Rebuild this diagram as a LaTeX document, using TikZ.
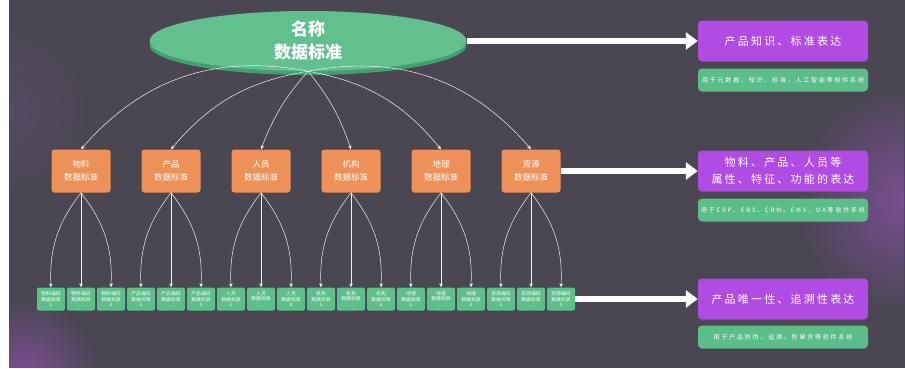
\documentclass[tikz,border=0pt]{standalone}
\usepackage{fontspec}
\setmainfont{Noto Sans CJK SC}
\newfontfamily\widefont[LetterSpace=20]{Noto Sans CJK SC}
\newfontfamily\usagefont[LetterSpace=30]{Noto Sans CJK SC}
\usetikzlibrary{positioning,shapes.geometric,arrows.meta,shadows}

\definecolor{bgcol}{HTML}{4A4652}
\definecolor{glow}{HTML}{7B4F95}
\definecolor{softglow}{HTML}{574A62}
\definecolor{rootgreen}{HTML}{62C08E}
\definecolor{rimgreen}{HTML}{43A06E}
\definecolor{midorange}{HTML}{EE9159}
\definecolor{leafgreen}{HTML}{5DBF8A}
\definecolor{notepurple}{HTML}{B04CE4}
\definecolor{usegreen}{HTML}{5BBE88}

\tikzset{
  root/.style={ellipse, fill=rootgreen, minimum width=317pt, minimum height=60pt, inner sep=0pt,
    text=white, align=center, font=\fontsize{17}{23}\selectfont\bfseries,
    drop shadow={shadow xshift=0pt, shadow yshift=-4pt, fill=rimgreen, opacity=1}},
  mid/.style={rectangle, rounded corners=3pt, fill=midorange, minimum width=59pt, minimum height=43pt,
    inner sep=0pt, text=white, align=center, font=\fontsize{8.5}{12.5}\selectfont},
  leaf/.style={rectangle, rounded corners=2pt, fill=leafgreen, minimum width=28pt, minimum height=23pt,
    inner sep=0pt, text=white, align=center, font=\fontsize{4.8}{5.8}\selectfont},
  note/.style={rectangle, rounded corners=4pt, fill=notepurple, minimum width=170pt, minimum height=41pt,
    inner sep=0pt, text=white, align=center, font=\widefont\fontsize{11}{17}\selectfont},
  use/.style={rectangle, rounded corners=4pt, fill=usegreen, minimum width=170pt, minimum height=23pt,
    inner sep=0pt, text=white, font=\usagefont\fontsize{6}{7}\selectfont},
  link/.style={gray!10, line width=0.5pt, -{Stealth[length=4pt,width=3.5pt]}},
  big/.style={white, line width=6pt, -{Triangle[length=12pt,width=17pt]}}
}

\begin{document}
\begin{tikzpicture}[x=1pt,y=-1pt,on grid,node distance=90pt]
   \useasboundingbox (0,0) rectangle (905,368);
   \fill[bgcol] (0,0) rectangle (905,368);
   \begin{scope}
     \clip (9,1) rectangle (904,367);
     \shade[inner color=glow, outer color=bgcol] (910,200) circle (115);
     \shade[inner color=glow, outer color=bgcol] (25,375) circle (75);
     \shade[inner color=softglow, outer color=bgcol] (5,110) circle (90);
   \end{scope}
   \fill[white] (0,0) rectangle (9,368);

   \node[root] (root) at (308,41) {名称\\数据标准};

   \node[mid] (m1) at (81,171) {物料\\数据标准};
   \node[mid] (m2) [right=of m1] {产品\\数据标准};
   \node[mid] (m3) [right=of m2] {人员\\数据标准};
   \node[mid] (m4) [right=of m3] {机构\\数据标准};
   \node[mid] (m5) [right=of m4] {地理\\数据标准};
   \node[mid] (m6) [right=of m5] {资源\\数据标准};

   \node[leaf] (l2)  [below=128pt of m1] {物料编码\\数据标准\\……};
   \node[leaf] (l1)  [left=30pt of l2]   {物料编码\\数据标准\\1};
   \node[leaf] (l3)  [right=30pt of l2]  {物料编码\\数据标准\\n};
   \node[leaf] (l5)  [below=128pt of m2] {产品编码\\数据标准\\……};
   \node[leaf] (l4)  [left=30pt of l5]   {产品编码\\数据标准\\1};
   \node[leaf] (l6)  [right=30pt of l5]  {产品编码\\数据标准\\n};
   \node[leaf] (l8)  [below=128pt of m3] {人员\\数据标准\\……};
   \node[leaf] (l7)  [left=30pt of l8]   {人员\\数据标准\\1};
   \node[leaf] (l9)  [right=30pt of l8]  {人员\\数据标准\\n};
   \node[leaf] (l11) [below=128pt of m4] {机构\\数据标准\\……};
   \node[leaf] (l10) [left=30pt of l11]  {机构\\数据标准\\1};
   \node[leaf] (l12) [right=30pt of l11] {机构\\数据标准\\n};
   \node[leaf] (l14) [below=128pt of m5] {地理\\数据标准\\……};
   \node[leaf] (l13) [left=30pt of l14]  {地理\\数据标准\\1};
   \node[leaf] (l15) [right=30pt of l14] {地理\\数据标准\\n};
   \node[leaf] (l17) [below=128pt of m6] {资源编码\\数据标准\\……};
   \node[leaf] (l16) [left=30pt of l17]  {资源编码\\数据标准\\1};
   \node[leaf] (l18) [right=30pt of l17] {资源编码\\数据标准\\n};

   \node[note] (p1) at (783,41) {产品知识、标准表达};
   \node[use]  (g1) [below=39pt of p1] {用于元数据、知识、标准、人工智能等软件系统};
   \node[note] (p2) at (783,171) {物料、产品、人员等\\属性、特征、功能的表达};
   \node[use]  (g2) [below=39pt of p2] {用于ERP、EBS、CRM、EMS、OA等软件系统};
   \node[note] (p3) at (783,299) {产品唯一性、追溯性表达};
   \node[use]  (g3) [below=38pt of p3] {用于产品防伪、追溯、防窜货等软件系统};

   \path[link]
        (root.south) edge[bend right=30] (m1.north)
        (root.south) edge[bend right=20] (m2.north)
        (root.south) edge[bend right=10] (m3.north)
        (root.south) edge[bend left=10] (m4.north)
        (root.south) edge[bend left=20] (m5.north)
        (root.south) edge[bend left=30] (m6.north)
        (m1.south) edge[bend right=20] (l1.north)
        (m1.south) edge (l2.north)
        (m1.south) edge[bend left=20] (l3.north)
        (m2.south) edge[bend right=20] (l4.north)
        (m2.south) edge (l5.north)
        (m2.south) edge[bend left=20] (l6.north)
        (m3.south) edge[bend right=20] (l7.north)
        (m3.south) edge (l8.north)
        (m3.south) edge[bend left=20] (l9.north)
        (m4.south) edge[bend right=20] (l10.north)
        (m4.south) edge (l11.north)
        (m4.south) edge[bend left=20] (l12.north)
        (m5.south) edge[bend right=20] (l13.north)
        (m5.south) edge (l14.north)
        (m5.south) edge[bend left=20] (l15.north)
        (m6.south) edge[bend right=20] (l16.north)
        (m6.south) edge (l17.north)
        (m6.south) edge[bend left=20] (l18.north)
        ;
   \path[big]
        (root.east) edge (p1.west)
        (m6.east) edge (p2.west)
        (l18.east) edge (p3.west)
        ;
\end{tikzpicture}
\end{document}
